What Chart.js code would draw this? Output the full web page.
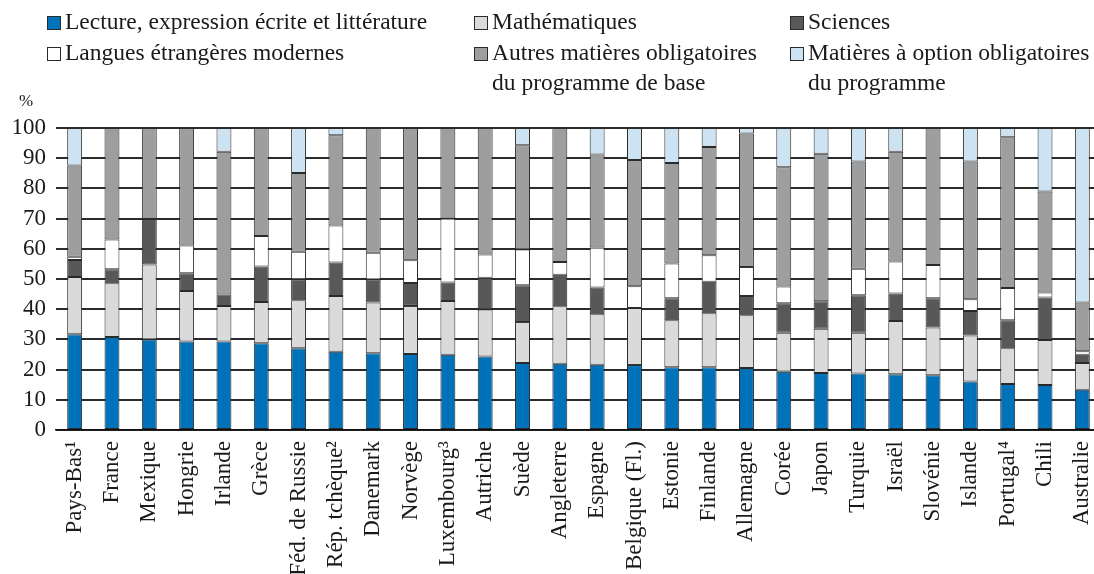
<!DOCTYPE html>
<html>
<head>
<meta charset="utf-8">
<script src="https://cdn.jsdelivr.net/npm/chart.js@4.4.1/dist/chart.umd.min.js"></script>
<style>
    html, body { margin: 0; padding: 0; overflow: hidden; background: #fff; }
    #chart { display: block; }
</style>
</head>
<body>
<canvas id="chart" width="1101" height="574"></canvas>
<script>
const countries = ["Pays-Bas¹", "France", "Mexique", "Hongrie", "Irlande", "Grèce", "Féd. de Russie",
    "Rép. tchèque²", "Danemark", "Norvège", "Luxembourg³", "Autriche", "Suède", "Angleterre", "Espagne",
    "Belgique (Fl.)", "Estonie", "Finlande", "Allemagne", "Corée", "Japon", "Turquie", "Israël",
    "Slovénie", "Islande", "Portugal⁴", "Chili", "Australie"];

const lecture = [31.7, 30.8, 30.0, 29.3, 29.3, 28.7, 27.1, 25.9, 25.4, 25.2, 24.9, 24.3, 22.2, 21.9,
    21.6, 21.5, 20.8, 20.8, 20.5, 19.3, 18.9, 18.7, 18.5, 18.1, 16.1, 15.2, 14.9, 13.3];
const mathematiques = [19.0, 17.8, 24.8, 16.7, 11.8, 13.7, 15.9, 18.5, 16.8, 15.9, 17.8, 15.6, 13.6, 19.1,
    16.7, 18.9, 15.5, 17.9, 17.5, 12.9, 14.6, 13.5, 17.6, 15.8, 15.2, 11.9, 14.9, 8.9];
const sciences = [5.6, 4.6, 15.1, 5.9, 3.8, 11.7, 6.9, 11.1, 7.6, 7.6, 6.1, 10.5, 12.1, 10.4,
    8.9, 0, 7.3, 10.4, 6.4, 9.8, 9.1, 12.4, 9.1, 9.7, 8.1, 9.2, 14.1, 2.7];
const langues = [1.1, 9.9, 0, 9.2, 0, 10.1, 9.1, 12.2, 8.9, 7.5, 21.2, 7.7, 11.9, 4.2,
    13.2, 7.2, 11.5, 8.8, 9.6, 5.5, 0, 8.8, 10.6, 11.0, 3.9, 10.7, 1.6, 1.2];
const autres = [30.2, 36.9, 30.1, 38.9, 47.2, 35.8, 26.1, 29.9, 41.3, 43.8, 30.0, 41.9, 34.5, 44.4,
    30.8, 41.8, 33.3, 35.8, 44.2, 39.5, 48.9, 35.5, 36.3, 45.4, 45.6, 49.9, 33.5, 16.1];
const option = [12.4, 0, 0, 0, 7.9, 0, 14.9, 2.4, 0, 0, 0, 0, 5.7, 0,
    8.8, 10.6, 11.6, 6.3, 1.8, 13.0, 8.5, 11.1, 7.9, 0, 11.1, 3.1, 21.0, 57.8];

const seriesNames = ["Lecture, expression écrite et littérature", "Mathématiques", "Sciences",
    "Langues étrangères modernes", "Autres matières obligatoires du programme de base",
    "Matières à option obligatoires du programme"];
// legend text as it wraps in the picture
const legendLines = [["Lecture, expression écrite et littérature"], ["Mathématiques"], ["Sciences"],
    ["Langues étrangères modernes"], ["Autres matières obligatoires", "du programme de base"],
    ["Matières à option obligatoires", "du programme"]];
const yTickLabels = ["0", "10", "20", "30", "40", "50", "60", "70", "80", "90", "100"];

const colors = ["#0072b9", "#d9dadc", "#58585a", "#ffffff", "#9d9ea0", "#cde3f1"];
const FONT = "'Liberation Serif', 'DejaVu Serif', serif";

const values = [lecture, mathematiques, sciences, langues, autres, option];

const datasets = values.map(function (v, i) {
    return {
        label: seriesNames[i],
        data: v,
        backgroundColor: colors[i],
        borderColor: "#2a2a2a",
        borderWidth: function (ctx) {
            return ctx.raw > 0 ? 1 : 0;
        },
        borderSkipped: false,
        barPercentage: 0.4,
        categoryPercentage: 1,
    };
});

// legend laid out in three columns like the original
const legendPlugin = {
    id: "gridLegend",
    afterDraw: function (chart) {
        const c = chart.ctx;
        const colX = [47, 474, 790];
        const rowY = [23, 54];
        c.save();
        c.font = "23.5px " + FONT;
        c.textBaseline = "middle";
        legendLines.forEach(function (lines, i) {
            const x = colX[i % 3];
            const y = rowY[Math.floor(i / 3)];
            c.fillStyle = colors[i];
            c.fillRect(x, y - 7, 14, 14);
            c.strokeStyle = "#2a2a2a";
            c.lineWidth = 1;
            c.strokeRect(x + 0.5, y - 6.5, 13, 13);
            c.fillStyle = "#1a1a1a";
            lines.forEach(function (t, j) {
                c.fillText(t, x + 18, y + j * 30);
            });
        });
        c.font = "17px " + FONT;
        c.textAlign = "center";
        c.fillText("%", 26, 102);
        c.restore();
    },
};

const ctx = document.getElementById("chart").getContext("2d");
const chart = new Chart(ctx, {
    type: "bar",
    data: { labels: countries, datasets: datasets },
    plugins: [legendPlugin],
    options: {
        responsive: false,
        animation: false,
        layout: { autoPadding: false, padding: { top: 128, right: 0, bottom: 0, left: 0 } },
        plugins: {
            legend: { display: false },
            tooltip: { enabled: false },
        },
        scales: {
            x: {
                stacked: true,
                grid: { display: false },
                border: { color: "#111", width: 1.5 },
                ticks: {
                    color: "#1a1a1a",
                    font: { family: FONT, size: 23 },
                    minRotation: 90,
                    maxRotation: 90,
                    autoSkip: false,
                    padding: 3,
                },
                afterFit: function (scale) {
                    scale.height = 144;
                    scale.paddingLeft = 0;
                    scale.paddingRight = 0;
                },
            },
            y: {
                stacked: true,
                min: 0,
                max: 100,
                grid: { color: "#2b2b2b", lineWidth: 2, drawTicks: false },
                border: { display: false },
                ticks: {
                    stepSize: 10,
                    autoSkip: false,
                    color: "#1a1a1a",
                    font: { family: FONT, size: 23 },
                    padding: 10,
                    callback: function (v, i) {
                        return yTickLabels[i];
                    },
                },
                afterFit: function (scale) {
                    scale.width = 56;
                },
            },
        },
    },
});
</script>
</body>
</html>
